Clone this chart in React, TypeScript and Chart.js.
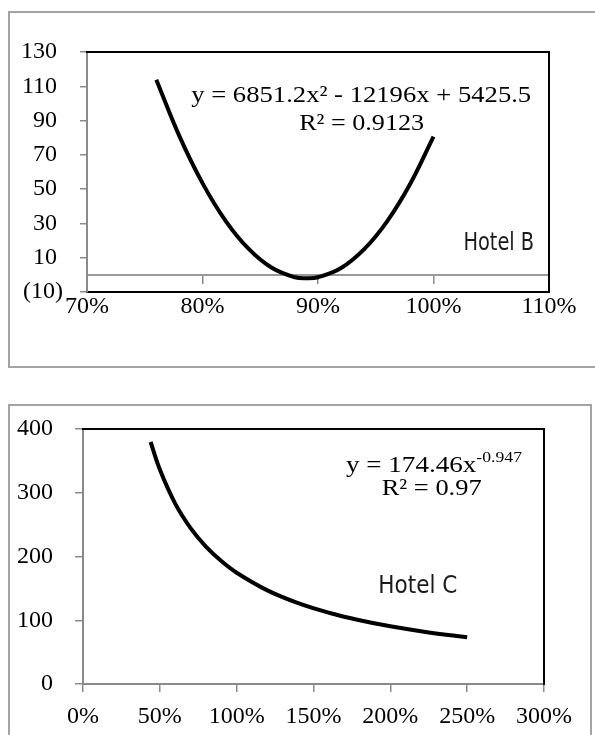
import React, { useEffect, useRef } from "react";
import { Chart, registerables } from "chart.js";

Chart.register(...registerables);

// ---------- Data ----------
// Hotel B: occupancy (as fraction) vs value, quadratic trend
const hotelBOccupancy = [0.76, 0.78, 0.8, 0.82, 0.84, 0.86, 0.88, 0.89, 0.9, 0.92, 0.94, 0.96, 0.98, 1.0];
const hotelBValue = [113.8, 80.9, 53.5, 31.5, 15.1, 4.1, -1.4, -2.0, -1.4, 4.0, 15.0, 31.4, 53.3, 80.7];
const hotelBXTicks = [0.7, 0.8, 0.9, 1.0, 1.1];
const hotelBYTicks = [-10, 10, 30, 50, 70, 90, 110, 130];

// Hotel C: occupancy (as fraction) vs value, power trend
const hotelCOccupancy = [0.44, 0.5, 0.6, 0.7, 0.8, 0.9, 1.0, 1.2, 1.4, 1.6, 1.8, 2.0, 2.25, 2.5];
const hotelCValue = [379.6, 336.3, 283.0, 244.6, 215.5, 192.8, 174.5, 146.8, 126.8, 111.8, 100.0, 90.5, 80.9, 73.3];
const hotelCXTicks = [0, 0.5, 1.0, 1.5, 2.0, 2.5, 3.0];
const hotelCYTicks = [0, 100, 200, 300, 400];

// Texts
const hotelBEquation = "y = 6851.2x\u00B2 - 12196x + 5425.5";
const hotelBR2 = "R\u00B2 = 0.9123";
const hotelBLabel = "Hotel B";
const hotelCEquationBase = "y = 174.46x";
const hotelCEquationExp = "-0.947";
const hotelCR2 = "R\u00B2 = 0.97";
const hotelCLabel = "Hotel C";

// ---------- Styles ----------
const SERIF = "'Liberation Serif', 'Times New Roman', serif";
const SANS = "'DejaVu Sans', Verdana, sans-serif";
const AXIS_GRAY = "#8a8a8a";
const TICK_FONT = { family: SERIF, size: 24 };

type Seg = { text: string; sup?: boolean };
type Note = {
  x: number;
  y: number;
  segs: Seg[];
  family: string;
  size: number;
  supSize?: number;
  supRise?: number;
  width: number;
  mid: number; // distance from visual centre to baseline (fraction of size)
  color: string;
};

function makeTextPlugin(notes: Note[]) {
  return {
    id: "trendText",
    afterDatasetsDraw(chart: any) {
      const ctx: CanvasRenderingContext2D = chart.ctx;
      const xs = chart.scales.x;
      const ys = chart.scales.y;
      notes.forEach((n) => {
        const px = xs.getPixelForValue(n.x);
        const py = ys.getPixelForValue(n.y);
        const widths = n.segs.map((s) => {
          ctx.font = `${s.sup ? n.supSize : n.size}px ${n.family}`;
          return ctx.measureText(s.text).width;
        });
        const total = widths.reduce((a, b) => a + b, 0);
        const sx = n.width / total;
        ctx.save();
        ctx.translate(px, py);
        ctx.scale(sx, 1);
        ctx.fillStyle = n.color;
        ctx.textBaseline = "alphabetic";
        ctx.textAlign = "left";
        let cur = -total / 2;
        const base = n.size * n.mid;
        n.segs.forEach((s, i) => {
          ctx.font = `${s.sup ? n.supSize : n.size}px ${n.family}`;
          ctx.fillText(s.text, cur, s.sup ? base - (n.supRise || 0) : base);
          cur += widths[i];
        });
        ctx.restore();
      });
    },
  };
}

const pct = (v: any) => `${Math.round(Number(v) * 100)}%`;
const setTicks = (arr: number[]) => (s: any) => {
  s.ticks = arr.map((value) => ({ value }));
};

function frameAxes(xmin: number, xmax: number) {
  return {
    xTop: {
      type: "linear",
      axis: "x",
      position: "top",
      display: true,
      min: xmin,
      max: xmax,
      grid: { display: false, drawTicks: false },
      border: { display: true, color: "#000", width: 2 },
      ticks: { display: false },
      afterFit: (s: any) => {
        s.height = 0;
      },
    },
    yRight: {
      type: "linear",
      axis: "y",
      position: "right",
      display: true,
      grid: { display: false, drawTicks: false },
      border: { display: true, color: "#000", width: 2 },
      ticks: { display: false },
      afterFit: (s: any) => {
        s.width = 0;
      },
    },
  };
}

function hotelBConfig(): any {
  const notes: Note[] = [
    { x: 0.9374, y: 105.5, segs: [{ text: hotelBEquation }], family: SERIF, size: 23, width: 340, mid: 0.338, color: "#000" },
    { x: 0.9378, y: 88.9, segs: [{ text: hotelBR2 }], family: SERIF, size: 23, width: 125, mid: 0.338, color: "#000" },
    { x: 1.0565, y: 19.5, segs: [{ text: hotelBLabel }], family: SANS, size: 24, width: 70.6, mid: 0.365, color: "#1a1a1a" },
  ];
  return {
    type: "line",
    data: {
      datasets: [
        {
          data: hotelBOccupancy.map((x, i) => ({ x, y: hotelBValue[i] })),
          borderColor: "#000",
          borderWidth: 4,
          pointRadius: 0,
          tension: 0.4,
          fill: false,
          xAxisID: "x",
          yAxisID: "y",
        },
      ],
    },
    options: {
      animation: false,
      responsive: false,
      layout: { padding: { left: 0, top: 52, right: 46, bottom: 48 } },
      plugins: { legend: { display: false }, tooltip: { enabled: false } },
      scales: {
        x: {
          type: "linear",
          position: "bottom",
          min: 0.7,
          max: 1.1,
          afterBuildTicks: setTicks(hotelBXTicks),
          afterFit: (s: any) => {
            s.height = 40;
          },
          grid: { display: false, drawTicks: false },
          border: { display: true, color: "#000", width: 2 },
          ticks: { color: "#000", font: TICK_FONT, padding: 0, maxRotation: 0, autoSkip: false, callback: pct },
        },
        xZero: {
          type: "linear",
          axis: "x",
          display: true,
          position: { y: 0 },
          min: 0.7,
          max: 1.1,
          afterBuildTicks: setTicks(hotelBXTicks),
          afterFit: (s: any) => {
            s.height = 0;
          },
          grid: { display: true, drawOnChartArea: false, drawTicks: true, tickLength: 8, color: AXIS_GRAY, lineWidth: 1.5 },
          border: { display: true, color: "#999", width: 2 },
          ticks: { display: false },
        },
        y: {
          type: "linear",
          position: "left",
          min: -10,
          max: 130,
          afterBuildTicks: setTicks(hotelBYTicks),
          afterFit: (s: any) => {
            s.width = 87;
          },
          grid: { drawOnChartArea: false, drawTicks: true, tickLength: 7, color: AXIS_GRAY, lineWidth: 1.5 },
          border: { display: true, color: AXIS_GRAY, width: 2 },
          ticks: {
            color: "#000",
            font: TICK_FONT,
            padding: 17,
            autoSkip: false,
            callback: (v: any) => (Number(v) < 0 ? `(${Math.abs(Number(v))})` : `${v} `),
          },
        },
        ...frameAxes(0.7, 1.1),
      },
    },
    plugins: [makeTextPlugin(notes)],
  };
}

function hotelCConfig(): any {
  const notes: Note[] = [
    {
      x: 2.284,
      y: 345,
      segs: [{ text: hotelCEquationBase }, { text: hotelCEquationExp, sup: true }],
      family: SERIF,
      size: 23,
      supSize: 15,
      supRise: 10,
      width: 176,
      mid: 0.338,
      color: "#000",
    },
    { x: 2.269, y: 309, segs: [{ text: hotelCR2 }], family: SERIF, size: 23, width: 100, mid: 0.338, color: "#000" },
    { x: 2.179, y: 156.9, segs: [{ text: hotelCLabel }], family: SANS, size: 24, width: 79, mid: 0.365, color: "#1a1a1a" },
  ];
  return {
    type: "line",
    data: {
      datasets: [
        {
          data: hotelCOccupancy.map((x, i) => ({ x, y: hotelCValue[i] })),
          borderColor: "#000",
          borderWidth: 4,
          pointRadius: 0,
          tension: 0.4,
          fill: false,
          xAxisID: "x",
          yAxisID: "y",
        },
      ],
    },
    options: {
      animation: false,
      responsive: false,
      layout: { padding: { left: 0, top: 49, right: 51, bottom: 6 } },
      plugins: { legend: { display: false }, tooltip: { enabled: false } },
      scales: {
        x: {
          type: "linear",
          position: "bottom",
          min: 0,
          max: 3,
          afterBuildTicks: setTicks(hotelCXTicks),
          afterFit: (s: any) => {
            s.height = 45;
          },
          grid: { drawOnChartArea: false, drawTicks: true, tickLength: 8, color: AXIS_GRAY, lineWidth: 1.5 },
          border: { display: true, color: AXIS_GRAY, width: 2 },
          ticks: { color: "#000", font: TICK_FONT, padding: 10, maxRotation: 0, autoSkip: false, callback: pct },
        },
        y: {
          type: "linear",
          position: "left",
          min: 0,
          max: 400,
          afterBuildTicks: setTicks(hotelCYTicks),
          afterFit: (s: any) => {
            s.width = 83;
          },
          grid: { drawOnChartArea: false, drawTicks: true, tickLength: 8, color: AXIS_GRAY, lineWidth: 1.5 },
          border: { display: true, color: AXIS_GRAY, width: 2 },
          ticks: { color: "#000", font: TICK_FONT, padding: 22, autoSkip: false },
        },
        ...frameAxes(0, 3),
      },
    },
    plugins: [makeTextPlugin(notes)],
  };
}

function ChartCanvas(props: { make: () => any; left: number; top: number; width: number; height: number }) {
  const ref = useRef<HTMLCanvasElement>(null);
  useEffect(() => {
    const chart = new Chart(ref.current as HTMLCanvasElement, props.make());
    return () => chart.destroy();
  }, []);
  return (
    <canvas
      ref={ref}
      width={props.width}
      height={props.height}
      style={{ position: "absolute", left: props.left, top: props.top }}
    />
  );
}

export default function App() {
  return (
    <div
      style={{
        position: "fixed",
        left: 0,
        top: 0,
        width: 595,
        height: 735,
        overflow: "hidden",
        background: "#fff",
      }}
    >
      <div
        style={{
          position: "absolute",
          left: 8,
          top: 11,
          width: 600,
          height: 353,
          border: "2px solid #a3a3a3",
        }}
      />
      <div
        style={{
          position: "absolute",
          left: 8,
          top: 404,
          width: 580,
          height: 400,
          border: "2px solid #a3a3a3",
        }}
      />
      <ChartCanvas make={hotelBConfig} left={0} top={0} width={595} height={380} />
      <ChartCanvas make={hotelCConfig} left={0} top={380} width={595} height={355} />
    </div>
  );
}
